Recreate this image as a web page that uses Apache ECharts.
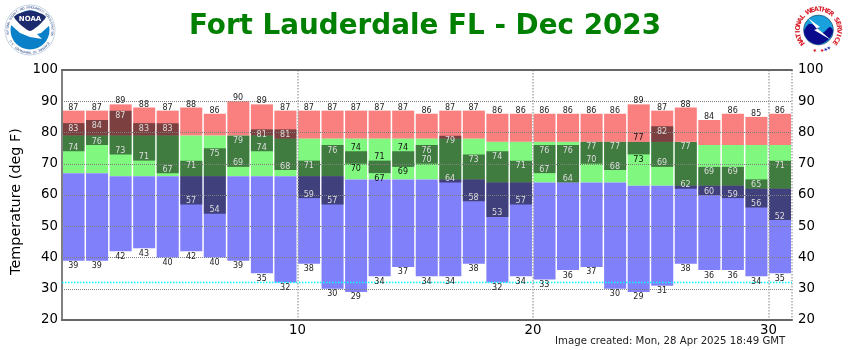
<!DOCTYPE html>
<html>
<head>
<meta charset="utf-8">
<title>Fort Lauderdale FL - Dec 2023</title>
<style>
    html, body { margin: 0; padding: 0; background: #fff; }
    #chart { width: 850px; height: 350px; }
</style>
</head>
<body>
<div id="chart"></div>
<script src="https://cdn.jsdelivr.net/npm/echarts@6/dist/echarts.min.js"></script>
<script>
    var recordHigh = [87,87,89,88,87,88,86,90,89,87, 87,87,87,87,87,86,87,87,86,86, 86,86,86,86,89,87,88,84,86,85,86];
    var normalHigh = [79,79,79,79,79,79,79,79,79,78, 78,78,78,78,78,78,78,78,77,77, 77,77,77,77,77,77,77,76,76,76,76];
    var normalLow  = [67,67,66,66,66,66,66,66,66,66, 66,66,65,65,65,65,65,65,64,64, 64,64,64,64,63,63,63,63,63,62,62];
    var recordLow  = [39,39,42,43,40,42,40,39,35,32, 38,30,29,34,37,34,34,38,32,34, 33,36,37,30,29,31,38,36,36,34,35];
    var obsHigh    = [83,84,87,83,83,71,75,79,81,81, 71,76,74,71,74,76,79,73,74,71, 76,76,77,77,77,82,77,69,69,65,71];
    var obsLow     = [74,76,73,71,67,57,54,69,74,68, 59,57,70,67,69,70,64,58,53,57, 67,64,70,68,73,69,62,60,59,56,52];
    var freezing = 32;
    var font = '"DejaVu Sans", sans-serif';

    var chart = echarts.init(document.getElementById('chart'));

    // one filled bar per day between two value lists
    function rangeSeries(name, lows, highs, color, z) {
      return {
        name: name,
        type: 'custom',
        z: z,
        silent: true,
        data: lows.map(function (v, i) { return [i + 1, v, highs[i]]; }),
        renderItem: function (params, api) {
          var a = api.coord([api.value(0) - 1, api.value(2)]);
          var b = api.coord([api.value(0), api.value(1)]);
          return {
            type: 'rect',
            shape: { x: a[0] + 0.5, y: a[1], width: b[0] - a[0] - 1.5, height: b[1] - a[1] },
            style: { fill: color, stroke: null }
          };
        }
      };
    }

    // text next to a value, dy in px from the value's position
    function labelSeries(name, values, dyFn, colorFn) {
      return {
        name: name,
        type: 'custom',
        z: 6,
        silent: true,
        data: values.map(function (v, i) { return [i + 1, v, i]; }),
        renderItem: function (params, api) {
          var i = api.value(2);
          var p = api.coord([api.value(0) - 0.5, api.value(1)]);
          return {
            type: 'text',
            x: p[0] - 0.5,
            y: p[1] + dyFn(i) + 1,
            style: {
              text: String(api.value(1)),
              fill: colorFn(i),
              font: '8px ' + font,
              align: 'center',
              verticalAlign: 'middle'
            }
          };
        }
      };
    }

    function isNarrow(i) {
      return obsHigh[i] - obsLow[i] <= 5;
    }

    function ringText(text, cx, cy, r, start, step, color, fontStr) {
      return text.split('').map(function (ch, i) {
        var a = (start + step * i) * Math.PI / 180;
        return {
          type: 'text',
          x: cx + r * Math.sin(a),
          y: cy - r * Math.cos(a),
          rotation: -a,
          silent: true,
          style: { text: ch, fill: color, font: fontStr, align: 'center', verticalAlign: 'middle' }
        };
      });
    }

    // NOAA logo
    var noaaLogo = [
      { type: 'circle', shape: { cx: 30, cy: 30, r: 25 }, style: { fill: '#fff', stroke: '#9db4d0', lineWidth: 0.6 } },
      { type: 'circle', shape: { cx: 30, cy: 30, r: 19.5 }, style: { fill: '#0a80c8' } },
      { type: 'polygon', shape: { points: [[9,17],[15,15],[30,24],[45,15],[51,17],[50,25],[41,33],[37,34],[42,39],[36,38],[30,37],[20,33],[11,25]] }, style: { fill: '#fff' } },
      { type: 'polygon', shape: { smooth: 0.2, points: [[14,17],[19,13.5],[30,10.5],[41,13.5],[46,17],[38,26],[30,31],[22,26]] }, style: { fill: '#1c2b6e' } },
      { type: 'text', x: 30, y: 19, style: { text: 'NOAA', fill: '#fff', font: 'bold 7px ' + font, align: 'center', verticalAlign: 'middle' } }
    ]
      .concat(ringText('NATIONAL OCEANIC AND ATMOSPHERIC ADMINISTRATION', 30, 30, 22.3, -100, 4.4, '#35508a', '3px ' + font))
      .concat(ringText('U.S. DEPARTMENT OF COMMERCE', 30, 30, 22.3, 240, -4.4, '#35508a', '3px ' + font));

    // NWS logo
    var nwsLogo = [
      { type: 'circle', shape: { cx: 818.5, cy: 30, r: 15 }, style: { fill: '#1aa0dc', stroke: '#000', lineWidth: 0.4 } },
      { type: 'polygon', shape: { smooth: 0.3, points: [[804,32],[809,24],[816,26],[822,33],[830,27],[833,31],[829,39],[819,44.5],[809,41]] }, style: { fill: '#0a0a8c' } },
      { type: 'polygon', shape: { points: [[808,18],[820,27],[817,28],[831,40],[814,30],[817,29]] }, style: { fill: '#fff' } }
    ]
      .concat(ringText('NATIONAL WEATHER SERVICE', 818.5, 30, 20.5, -128, 11.1, '#d8202c', 'bold 6.5px ' + font))
      .concat(ringText('★★', 818.5, 30, 20.5, 190, -20, '#d8202c', '5px ' + font))
      .concat(ringText('★★', 818.5, 30, 20.5, 150, 10, '#1c2bb0', '5px ' + font));

    var option = {
      animation: false,
      backgroundColor: '#fff',
      title: {
        text: 'Fort Lauderdale FL - Dec 2023',
        left: 'center',
        top: 8,
        textStyle: { color: '#008000', fontFamily: font, fontWeight: 'bold', fontSize: 27.8 }
      },
      graphic: noaaLogo.concat(nwsLogo).concat([
        {
          type: 'text',
          left: 555,
          top: 336,
          style: { text: 'Image created: Mon, 28 Apr 2025 18:49 GMT', fill: '#222', font: '10.2px ' + font }
        },
        {
          type: 'text',
          x: 16,
          y: 201.5,
          rotation: Math.PI / 2,
          style: { text: 'Temperature (deg F)', fill: '#000', font: '14.4px ' + font, align: 'center', verticalAlign: 'middle' }
        }
      ]),
      grid: { left: 62, right: 58, top: 70, bottom: 30, outerBoundsMode: 'none' },
      xAxis: [
        {
          type: 'value',
          min: 0,
          max: 31,
          interval: 10,
          z: 4,
          axisLine: { show: true, lineStyle: { color: '#666', width: 2 } },
          axisTick: { show: false },
          axisLabel: {
            color: '#000',
            fontFamily: font,
            fontSize: 13.3,
            margin: 4,
            formatter: function (v) { return v % 10 === 0 && v > 0 ? v : ''; }
          },
          splitLine: { show: true, lineStyle: { color: '#aaa', type: 'dotted', width: 1.5 } }
        },
        {
          type: 'value',
          position: 'top',
          min: 0,
          max: 31,
          z: 4,
          axisLine: { show: true, lineStyle: { color: '#666', width: 2 } },
          axisTick: { show: false },
          axisLabel: { show: false },
          splitLine: { show: false }
        }
      ],
      yAxis: [
        {
          type: 'value',
          min: 20,
          max: 100,
          interval: 10,
          z: 4,
          axisLine: { show: true, lineStyle: { color: '#808080', width: 2 } },
          axisTick: { show: false },
          axisLabel: { color: '#000', fontFamily: font, fontSize: 13.3, margin: 4, padding: [0, 0, 2, 0] },
          splitLine: { show: true, lineStyle: { color: '#808080', type: 'dotted', width: 1 } }
        },
        {
          type: 'value',
          position: 'right',
          min: 20,
          max: 100,
          interval: 10,
          z: 4,
          axisLine: { show: true, lineStyle: { color: '#808080', width: 2 } },
          axisTick: { show: false },
          axisLabel: { color: '#000', fontFamily: font, fontSize: 13.3, margin: 6, padding: [0, 0, 2, 0] },
          splitLine: { show: false }
        }
      ],
      series: [
        rangeSeries('Record range high', normalHigh, recordHigh, '#fa8080', 1),
        rangeSeries('Normal range', normalLow, normalHigh, '#80f880', 1),
        rangeSeries('Record range low', recordLow, normalLow, '#8080fa', 1),
        rangeSeries('Observed', obsLow, obsHigh, 'rgba(0,0,0,0.5)', 2),
        {
          name: 'Freezing',
          type: 'line',
          z: 5,
          silent: true,
          showSymbol: false,
          lineStyle: { color: '#00ffff', type: 'dotted', width: 1.5 },
          data: [[0, freezing], [31, freezing]]
        },
        labelSeries('Record high labels', recordHigh, function () { return -4; }, function () { return '#222'; }),
        labelSeries('Record low labels', recordLow, function () { return 4.5; }, function () { return '#222'; }),
        labelSeries('Observed high labels', obsHigh,
          function (i) { return isNarrow(i) ? -4.5 : 4.5; },
          function (i) { return isNarrow(i) ? '#111' : '#ddd'; }),
        labelSeries('Observed low labels', obsLow,
          function (i) { return isNarrow(i) ? 4.5 : -4.5; },
          function (i) { return isNarrow(i) ? '#111' : '#ddd'; })
      ]
    };

    chart.setOption(option);
</script>
</body>
</html>
